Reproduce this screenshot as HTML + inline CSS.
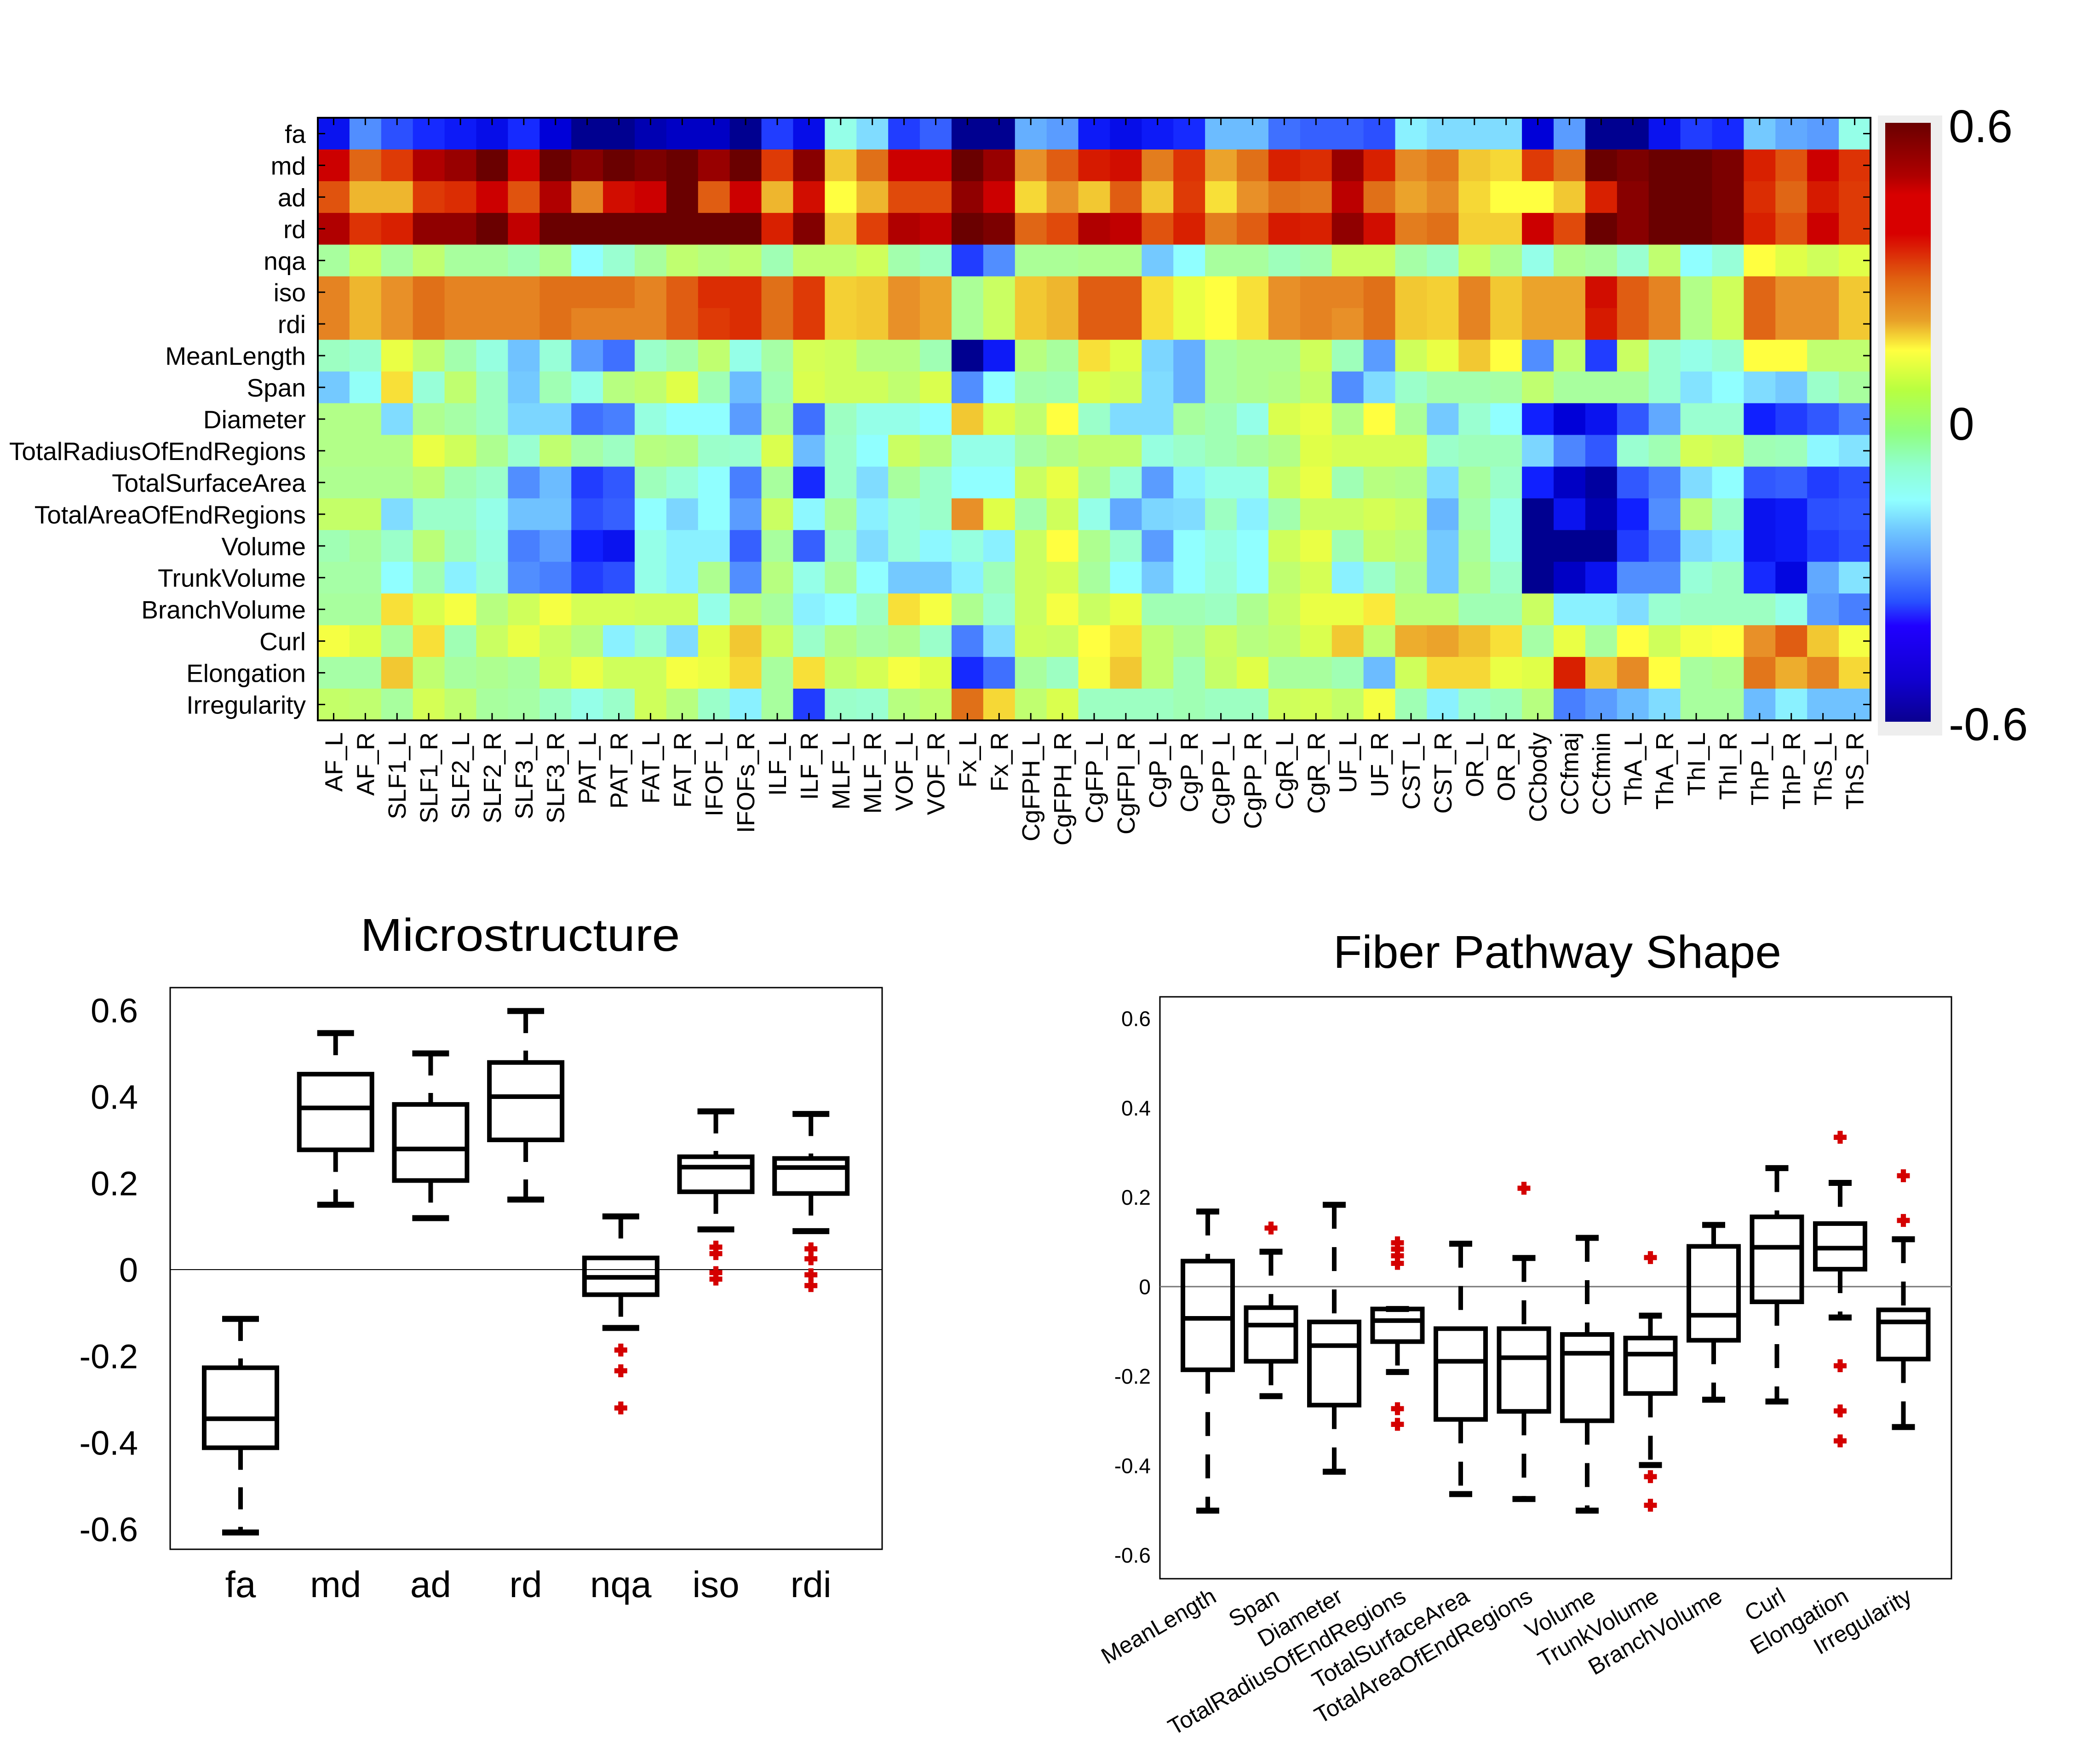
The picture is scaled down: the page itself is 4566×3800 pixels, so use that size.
<!DOCTYPE html>
<html><head><meta charset="utf-8"><style>
html,body{margin:0;padding:0;background:#fff}
svg{display:block}
text{font-family:"Liberation Sans",sans-serif;fill:#000}
</style></head><body>
<svg id="fig" xmlns="http://www.w3.org/2000/svg" width="4566" height="3800" viewBox="0 0 4566 3800">
<defs>
<linearGradient id="cbgrad" x1="0" y1="0" x2="0" y2="1">
<stop offset="0" stop-color="#6a0000"/><stop offset="0.09" stop-color="#b00000"/><stop offset="0.12" stop-color="#d80000"/><stop offset="0.185" stop-color="#d80000"/><stop offset="0.26" stop-color="#e06010"/><stop offset="0.33" stop-color="#e8a028"/><stop offset="0.38" stop-color="#ffff40"/><stop offset="0.446" stop-color="#b8ff40"/><stop offset="0.517" stop-color="#90ff80"/><stop offset="0.574" stop-color="#90ffd0"/><stop offset="0.63" stop-color="#90ffff"/><stop offset="0.68" stop-color="#70c8ff"/><stop offset="0.73" stop-color="#5898ff"/><stop offset="0.8" stop-color="#2850ff"/><stop offset="0.84" stop-color="#2000ff"/><stop offset="0.93" stop-color="#1000d0"/><stop offset="1" stop-color="#0a0090"/>
</linearGradient>
</defs>
<g id="heatmap"></g>
<g id="colorbar">
<rect x="4083" y="251" width="140" height="1348" fill="#eeeeee"/>
<rect x="4099" y="267" width="99" height="1302" fill="url(#cbgrad)"/>
<text x="4237" y="309" font-size="100">0.6</text>
<text x="4237" y="956" font-size="100">0</text>
<text x="4237" y="1609" font-size="100">-0.6</text>
</g>
<g id="micro"></g>
<g id="fiber"></g>
</svg>
<script>
// ---------- Heatmap data ----------
const rowLabels = ["fa","md","ad","rd","nqa","iso","rdi","MeanLength","Span","Diameter","TotalRadiusOfEndRegions","TotalSurfaceArea","TotalAreaOfEndRegions","Volume","TrunkVolume","BranchVolume","Curl","Elongation","Irregularity"];
const colLabels = ["AF_L","AF_R","SLF1_L","SLF1_R","SLF2_L","SLF2_R","SLF3_L","SLF3_R","PAT_L","PAT_R","FAT_L","FAT_R","IFOF_L","IFOFs_R","ILF_L","ILF_R","MLF_L","MLF_R","VOF_L","VOF_R","Fx_L","Fx_R","CgFPH_L","CgFPH_R","CgFP_L","CgFPI_R","CgP_L","CgP_R","CgPP_L","CgPP_R","CgR_L","CgR_R","UF_L","UF_R","CST_L","CST_R","OR_L","OR_R","CCbody","CCfmaj","CCfmin","ThA_L","ThA_R","ThI_L","ThI_R","ThP_L","ThP_R","ThS_L","ThS_R"];
const faVals = [-0.47,-0.32,-0.4,-0.44,-0.46,-0.48,-0.44,-0.5,-0.58,-0.58,-0.54,-0.52,-0.52,-0.58,-0.42,-0.48,-0.12,-0.2,-0.42,-0.38,-0.58,-0.58,-0.27,-0.3,-0.46,-0.48,-0.46,-0.44,-0.25,-0.25,-0.36,-0.38,-0.38,-0.4,-0.17,-0.2,-0.2,-0.2,-0.5,-0.3,-0.58,-0.58,-0.47,-0.42,-0.44,-0.23,-0.28,-0.3,-0.12];
const mdVals = [0.45,0.31,0.36,0.5,0.53,0.6,0.45,0.6,0.55,0.6,0.57,0.6,0.53,0.6,0.36,0.55,0.19,0.3,0.45,0.45,0.6,0.53,0.25,0.32,0.41,0.43,0.28,0.37,0.23,0.3,0.4,0.38,0.53,0.4,0.26,0.29,0.19,0.17,0.36,0.3,0.6,0.57,0.6,0.6,0.57,0.4,0.33,0.45,0.37];
const adVals = [0.33,0.21,0.21,0.36,0.38,0.45,0.33,0.5,0.27,0.43,0.45,0.6,0.32,0.45,0.21,0.43,0.13,0.21,0.34,0.34,0.54,0.45,0.17,0.25,0.19,0.32,0.19,0.36,0.16,0.25,0.3,0.29,0.48,0.3,0.23,0.26,0.17,0.13,0.13,0.19,0.4,0.55,0.6,0.6,0.57,0.38,0.31,0.41,0.36];
const rdVals = [0.5,0.37,0.4,0.54,0.54,0.6,0.47,0.6,0.6,0.6,0.6,0.6,0.6,0.6,0.4,0.56,0.19,0.35,0.5,0.47,0.6,0.57,0.31,0.34,0.5,0.47,0.33,0.4,0.28,0.32,0.41,0.4,0.54,0.43,0.28,0.3,0.18,0.18,0.45,0.34,0.6,0.55,0.6,0.6,0.57,0.4,0.33,0.45,0.36];
const nqaVals = [-0.02,0.06,-0.02,0.04,-0.02,-0.02,-0.05,0,-0.15,-0.09,-0.02,0.04,0.02,0.04,-0.05,0.04,0.04,0.07,-0.04,-0.07,-0.42,-0.32,-0.01,-0.01,0,0,-0.23,-0.15,-0.02,-0.02,-0.06,-0.04,0.06,0.06,-0.03,-0.07,0.06,0,-0.12,0,-0.02,-0.09,0.04,-0.15,-0.1,0.13,0.1,0.07,0.1];
const isoVals = [0.27,0.21,0.25,0.3,0.27,0.27,0.27,0.3,0.3,0.3,0.27,0.32,0.38,0.38,0.3,0.36,0.18,0.19,0.25,0.23,-0.01,0.06,0.19,0.21,0.32,0.32,0.16,0.11,0.13,0.16,0.25,0.27,0.27,0.3,0.19,0.18,0.27,0.19,0.23,0.23,0.43,0.32,0.27,0.01,0.07,0.31,0.25,0.25,0.19];
const rdiVals = [0.27,0.21,0.25,0.3,0.27,0.27,0.27,0.3,0.27,0.27,0.27,0.32,0.36,0.38,0.3,0.36,0.18,0.19,0.25,0.23,-0.01,0.06,0.19,0.21,0.32,0.32,0.16,0.11,0.13,0.16,0.25,0.27,0.25,0.3,0.19,0.18,0.27,0.19,0.23,0.23,0.41,0.32,0.27,0.01,0.07,0.31,0.25,0.25,0.19];
const meanLengthVals = [-0.07,-0.09,0.11,0.04,-0.04,-0.11,-0.24,-0.1,-0.3,-0.36,-0.08,-0.04,0.04,-0.12,-0.03,0.08,0.07,0.02,0.02,-0.05,-0.58,-0.46,0.02,-0.02,0.16,0.1,-0.21,-0.27,-0.02,0,0,0.07,-0.06,-0.3,0.07,0.11,0.19,0.13,-0.32,0.04,-0.42,0.06,-0.09,-0.12,-0.09,0.13,0.13,0.04,0.04];
const spanVals = [-0.23,-0.14,0.16,-0.1,0.04,-0.07,-0.23,-0.05,-0.12,0.02,0.04,0.1,-0.05,-0.25,-0.05,0.09,0.07,0.07,0.04,0.09,-0.32,-0.15,-0.04,-0.05,0.09,0.07,-0.2,-0.27,-0.02,0,0.01,0.05,-0.32,-0.2,-0.08,-0.04,-0.04,-0.03,0.04,-0.02,-0.02,-0.02,-0.09,-0.19,-0.15,-0.2,-0.23,-0.08,-0.02];
const diameterVals = [0.01,0.01,-0.2,0,-0.03,-0.07,-0.21,-0.21,-0.36,-0.34,-0.11,-0.15,-0.15,-0.3,-0.02,-0.36,-0.07,-0.12,-0.12,-0.15,0.19,0.09,0.04,0.13,-0.08,-0.2,-0.2,-0.02,-0.05,-0.12,0.09,0.11,0.01,0.13,-0.01,-0.23,-0.09,-0.15,-0.45,-0.5,-0.47,-0.39,-0.28,-0.09,-0.09,-0.45,-0.42,-0.39,-0.34];
const totalRadiusVals = [0.01,0.01,0.01,0.11,0.07,0,-0.09,0.04,-0.03,-0.07,0.02,0.01,-0.08,-0.09,0.09,-0.25,-0.08,-0.15,0.06,0.02,-0.12,-0.12,-0.03,0.01,0.04,0.04,-0.11,-0.08,-0.05,-0.02,0.01,0.1,0.08,0.08,0.08,-0.08,-0.06,-0.06,-0.21,-0.33,-0.39,-0.09,-0.05,0.08,0.06,-0.05,-0.06,-0.16,-0.19];
const surfaceAreaVals = [0,0,0,0.03,-0.05,-0.08,-0.32,-0.25,-0.42,-0.39,-0.06,-0.1,-0.15,-0.34,-0.02,-0.44,-0.08,-0.2,-0.02,-0.08,-0.15,-0.15,0.06,0.11,0,-0.1,-0.3,-0.17,-0.12,-0.12,0.06,0.11,-0.05,0.02,0.01,-0.2,-0.02,-0.08,-0.45,-0.52,-0.56,-0.39,-0.34,-0.2,-0.15,-0.39,-0.38,-0.42,-0.4];
const areaEndVals = [0.05,0.05,-0.2,-0.08,-0.08,-0.12,-0.24,-0.24,-0.4,-0.38,-0.15,-0.21,-0.15,-0.3,0.06,-0.16,-0.02,-0.17,-0.1,-0.08,0.25,0.1,-0.04,0.07,-0.12,-0.28,-0.21,-0.2,-0.07,-0.17,-0.04,0.06,0.06,0.08,0.06,-0.26,-0.04,-0.12,-0.58,-0.47,-0.54,-0.45,-0.32,0.03,-0.08,-0.47,-0.46,-0.4,-0.39];
const volumeVals = [-0.05,-0.02,-0.08,0.03,-0.06,-0.11,-0.34,-0.3,-0.45,-0.47,-0.12,-0.17,-0.17,-0.38,-0.02,-0.38,-0.07,-0.2,-0.1,-0.16,-0.11,-0.17,0.06,0.13,0,-0.09,-0.3,-0.15,-0.11,-0.15,0.07,0.11,-0.05,0.05,0.03,-0.23,-0.02,-0.12,-0.58,-0.58,-0.58,-0.42,-0.36,-0.2,-0.17,-0.47,-0.46,-0.42,-0.4];
const trunkVals = [-0.03,-0.03,-0.15,-0.05,-0.17,-0.1,-0.32,-0.34,-0.42,-0.4,-0.12,-0.17,0,-0.32,0.02,-0.12,-0.02,-0.15,-0.23,-0.23,-0.17,-0.06,0.06,0.08,-0.02,-0.15,-0.23,-0.15,-0.1,-0.15,0.04,0.08,-0.17,-0.08,0,-0.23,0,-0.08,-0.58,-0.52,-0.47,-0.32,-0.32,-0.1,-0.07,-0.44,-0.49,-0.28,-0.19];
const branchVals = [-0.02,-0.02,0.16,0.09,0.12,0.02,0.07,0.12,0.08,0.08,0.07,0.07,-0.12,0.02,-0.02,-0.17,-0.15,-0.07,0.16,0.12,0,-0.09,0.06,0.12,0.06,0.11,-0.05,-0.05,-0.07,0,0.06,0.11,0.11,0.15,0.03,0.03,-0.05,-0.05,0.06,-0.17,-0.17,-0.2,-0.09,-0.07,-0.07,-0.07,-0.12,-0.3,-0.34];
const curlVals = [0.12,0.1,-0.02,0.16,-0.05,0.06,0.11,0.06,0.02,-0.17,-0.09,-0.2,0.1,0.19,0.06,-0.08,0.01,-0.03,0,-0.08,-0.34,-0.2,0.07,0.06,0.13,0.16,0.04,0,0.06,0.02,0.04,0.09,0.19,0.04,0.22,0.23,0.2,0.16,-0.03,0.11,-0.02,0.13,0.07,0.12,0.13,0.25,0.32,0.19,0.12];
const elongationVals = [-0.03,-0.03,0.19,0.04,-0.02,0,-0.02,0.07,0.11,0.07,0.07,0.12,0.11,0.17,-0.02,0.16,0.05,0.08,0.12,0.1,-0.44,-0.36,-0.02,-0.07,0.12,0.19,0.04,-0.05,0.05,0.1,-0.02,-0.02,-0.05,-0.25,0.07,0.17,0.17,0.11,0.1,0.4,0.19,0.26,0.13,-0.02,0,0.29,0.22,0.27,0.17];
const irregularityVals = [0.05,0.04,-0.02,0.08,0.04,-0.02,-0.03,-0.07,-0.12,-0.08,0.07,0.02,-0.08,-0.17,-0.02,-0.42,-0.08,-0.09,0.02,0.04,0.3,0.17,0.04,0.09,-0.07,-0.07,-0.07,-0.05,-0.07,-0.07,0.07,0.08,0.05,0.12,-0.05,-0.17,-0.08,-0.06,0.02,-0.34,-0.3,-0.25,-0.2,-0.02,-0.02,-0.25,-0.17,-0.24,-0.24];
const heatRows = [faVals,mdVals,adVals,rdVals,nqaVals,isoVals,rdiVals,meanLengthVals,spanVals,diameterVals,totalRadiusVals,surfaceAreaVals,areaEndVals,volumeVals,trunkVals,branchVals,curlVals,elongationVals,irregularityVals];

// ---------- Boxplot data ----------
const microCats = ["fa","md","ad","rd","nqa","iso","rdi"];
const microLow = [-0.608,0.15,0.119,0.162,-0.135,0.093,0.089];
const microQ1 = [-0.412,0.277,0.206,0.3,-0.058,0.18,0.176];
const microMed = [-0.345,0.374,0.279,0.4,-0.018,0.237,0.236];
const microQ3 = [-0.227,0.452,0.382,0.479,0.027,0.261,0.257];
const microHigh = [-0.114,0.547,0.5,0.598,0.123,0.366,0.36];
const microOut = [[],[],[],[],[-0.186,-0.234,-0.32],[0.052,0.037,-0.007,-0.022],[0.048,0.025,-0.012,-0.037]];
const microTicks = [0.6,0.4,0.2,0,-0.2,-0.4,-0.6];

const fiberCats = ["MeanLength","Span","Diameter","TotalRadiusOfEndRegions","TotalSurfaceArea","TotalAreaOfEndRegions","Volume","TrunkVolume","BranchVolume","Curl","Elongation","Irregularity"];
const fiberLow = [-0.501,-0.245,-0.414,-0.191,-0.464,-0.475,-0.501,-0.399,-0.253,-0.257,-0.069,-0.314];
const fiberQ1 = [-0.186,-0.167,-0.265,-0.123,-0.297,-0.279,-0.3,-0.239,-0.12,-0.034,0.039,-0.162];
const fiberMed = [-0.071,-0.086,-0.132,-0.076,-0.167,-0.159,-0.149,-0.151,-0.064,0.088,0.086,-0.079];
const fiberQ3 = [0.057,-0.047,-0.079,-0.05,-0.094,-0.094,-0.107,-0.115,0.09,0.156,0.141,-0.052];
const fiberHigh = [0.168,0.078,0.183,-0.05,0.096,0.064,0.109,-0.065,0.138,0.265,0.232,0.106];
const fiberOut = [[],[0.131],[],[0.098,0.084,0.069,0.052,-0.273,-0.308],[],[0.22],[],[0.065,-0.425,-0.489],[],[],[0.334,-0.177,-0.278,-0.345],[0.248,0.148]];
const fiberTicks = [0.6,0.4,0.2,0,-0.2,-0.4,-0.6];

const NS = "http://www.w3.org/2000/svg";
function mk(tag, attrs, parent){ const e=document.createElementNS(NS,tag); for(const k in attrs) e.setAttribute(k,attrs[k]); parent.appendChild(e); return e; }

// colormap
const cmapV = [-0.6,-0.55,-0.5,-0.45,-0.4,-0.35,-0.3,-0.25,-0.2,-0.15,-0.1,-0.05,0,0.05,0.1,0.13,0.16,0.2,0.25,0.3,0.35,0.4,0.45,0.5,0.55,0.6];
const cmapC = ["#000080","#0000a8","#0000d8","#1020ff","#2c50ff","#4478ff","#5a9cff","#6cbcff","#80dcff","#90ffff","#98ffd8","#a0ffb4","#aeff90","#c4ff68","#e0ff48","#ffff40","#f8e038","#f0c030","#e89028","#e07018","#e04008","#d82000","#cc0000","#b00000","#880000","#6a0000"];
function hex2rgb(h){return [parseInt(h.substr(1,2),16),parseInt(h.substr(3,2),16),parseInt(h.substr(5,2),16)];}
function colorOf(v){
  v=Math.max(-0.6,Math.min(0.6,v));
  for(let i=0;i<cmapV.length-1;i++){
    if(v<=cmapV[i+1]){const t=(v-cmapV[i])/(cmapV[i+1]-cmapV[i]);const a=hex2rgb(cmapC[i]),b=hex2rgb(cmapC[i+1]);
      return "rgb("+a.map((x,j)=>Math.round(x+(b[j]-x)*t)).join(",")+")";}
  }
  return cmapC[cmapC.length-1];
}

// ---------- heatmap ----------
(function(){
  const g=document.getElementById("heatmap");
  const X0=691, Y0=256, X1=4067, Y1=1566;
  const cw=(X1-X0)/colLabels.length, ch=(Y1-Y0)/rowLabels.length;
  const xc=i=>X0+i*cw, yr=j=>Y0+j*ch;
  heatRows.forEach((row,j)=>{
    row.forEach((v,i)=>{
      const r=mk("rect",{x:xc(i).toFixed(2),y:yr(j).toFixed(2),width:(cw+0.6).toFixed(2),height:(ch+0.6).toFixed(2),fill:colorOf(v)},g);
      
      
    });
    const t=mk("text",{x:665,y:(yr(j)+ch/2+20).toFixed(1),"font-size":55,"text-anchor":"end"},g);
    t.textContent=rowLabels[j];
    
    
    mk("line",{x1:X0,x2:X0+16,y1:yr(j)+ch/2,y2:yr(j)+ch/2,stroke:"#000","stroke-width":3},g);
    mk("line",{x1:X1-16,x2:X1,y1:yr(j)+ch/2,y2:yr(j)+ch/2,stroke:"#000","stroke-width":3},g);
  });
  colLabels.forEach((c,i)=>{
    const cx=xc(i)+cw/2;
    const t=mk("text",{x:0,y:0,"font-size":54,"text-anchor":"end",transform:"translate("+(cx+19).toFixed(1)+",1592) rotate(-90)"},g);
    t.textContent=c;
    
    
    mk("line",{x1:cx,x2:cx,y1:Y0,y2:Y0+16,stroke:"#000","stroke-width":3},g);
    mk("line",{x1:cx,x2:cx,y1:Y1-16,y2:Y1,stroke:"#000","stroke-width":3},g);
  });
  const b=mk("rect",{x:X0,y:Y0,width:X1-X0,height:Y1-Y0,fill:"none",stroke:"#000","stroke-width":4},g);
  
  
})();

// ---------- boxplots ----------
function plus(g,x,y,s){
  const p=mk("path",{d:`M${x-s} ${y}H${x+s}M${x} ${y-s}V${y+s}`,stroke:"#d40000","stroke-width":s*0.8,fill:"none"},g);
  
  
}
function boxplot(cfg){
  const g=document.getElementById(cfg.id);
  const yv=v=>cfg.y0-v*cfg.k;
  const xv=i=>cfg.xStart+i*cfg.dx;
  const fr=mk("rect",{x:cfg.L,y:cfg.T,width:cfg.R-cfg.L,height:cfg.B-cfg.T,fill:"none",stroke:"#000","stroke-width":3},g);
  
  
  const zl=mk("line",{x1:cfg.L,x2:cfg.R,y1:yv(0),y2:yv(0),stroke:cfg.zeroColor,"stroke-width":cfg.zeroW},g);
  
  
  cfg.ticks.forEach(v=>{
    const t=mk("text",{x:cfg.tickX,y:(yv(v)+cfg.tickFs*0.36).toFixed(1),"font-size":cfg.tickFs,"text-anchor":"end"},g);
    t.textContent=(v===0?"0":v.toFixed(1));
    
    
  });
  const tt=mk("text",{x:cfg.titleX,y:cfg.titleY,"font-size":100,"text-anchor":"middle",textLength:cfg.titleW,lengthAdjust:"spacingAndGlyphs"},g);
  tt.textContent=cfg.title;
  
  
  cfg.cats.forEach((c,i)=>{
    const x=xv(i), bw=cfg.bw/2, cw=cfg.cw/2, sw=cfg.sw;
    const bg=mk("g",{},g);
    
    
    mk("line",{x1:x,x2:x,y1:yv(cfg.high[i]),y2:yv(cfg.q3[i]),stroke:"#000","stroke-width":sw,"stroke-dasharray":cfg.dash},bg);
    mk("line",{x1:x,x2:x,y1:yv(cfg.q1[i]),y2:yv(cfg.low[i]),stroke:"#000","stroke-width":sw,"stroke-dasharray":cfg.dash},bg);
    mk("line",{x1:x-cw,x2:x+cw,y1:yv(cfg.high[i]),y2:yv(cfg.high[i]),stroke:"#000","stroke-width":sw+3},bg);
    mk("line",{x1:x-cw,x2:x+cw,y1:yv(cfg.low[i]),y2:yv(cfg.low[i]),stroke:"#000","stroke-width":sw+3},bg);
    mk("rect",{x:x-bw,y:yv(cfg.q3[i]),width:cfg.bw,height:yv(cfg.q1[i])-yv(cfg.q3[i]),fill:"none",stroke:"#000","stroke-width":sw},bg);
    mk("line",{x1:x-bw,x2:x+bw,y1:yv(cfg.med[i]),y2:yv(cfg.med[i]),stroke:"#000","stroke-width":sw},bg);
    cfg.out[i].forEach(v=>plus(bg,x,yv(v),cfg.ps));
    let lab;
    if(cfg.rot){
      lab=mk("text",{x:0,y:0,"font-size":cfg.catFs,"text-anchor":"end",transform:`translate(${x+22},${cfg.catY}) rotate(-30)`},g);
    } else {
      lab=mk("text",{x:x,y:cfg.catY,"font-size":cfg.catFs,"text-anchor":"middle"},g);
    }
    lab.textContent=c;
    
    
  });
}
boxplot({id:"micro",cats:microCats,low:microLow,q1:microQ1,med:microMed,q3:microQ3,high:microHigh,out:microOut,ticks:microTicks,
  L:370,R:1918,T:2147,B:3368,y0:2760,k:940,xStart:523,dx:206.7,bw:158,cw:80,sw:10,dash:"48 38",ps:14,
  zeroColor:"#000",zeroW:2,tickX:300,tickFs:74,title:"Microstructure",titleX:1131,titleY:2067,titleW:695,catY:3472,catFs:80,rot:false});
boxplot({id:"fiber",cats:fiberCats,low:fiberLow,q1:fiberQ1,med:fiberMed,q3:fiberQ3,high:fiberHigh,out:fiberOut,ticks:fiberTicks,
  L:2522,R:4243,T:2167,B:3432,y0:2797,k:972,xStart:2626,dx:137.5,bw:108,cw:50,sw:10,dash:"52 40",ps:14,
  zeroColor:"#777",zeroW:3,tickX:2502,tickFs:46,title:"Fiber Pathway Shape",titleX:3386,titleY:2104,titleW:974,catY:3480,catFs:50,rot:true});
</script>
</body></html>
